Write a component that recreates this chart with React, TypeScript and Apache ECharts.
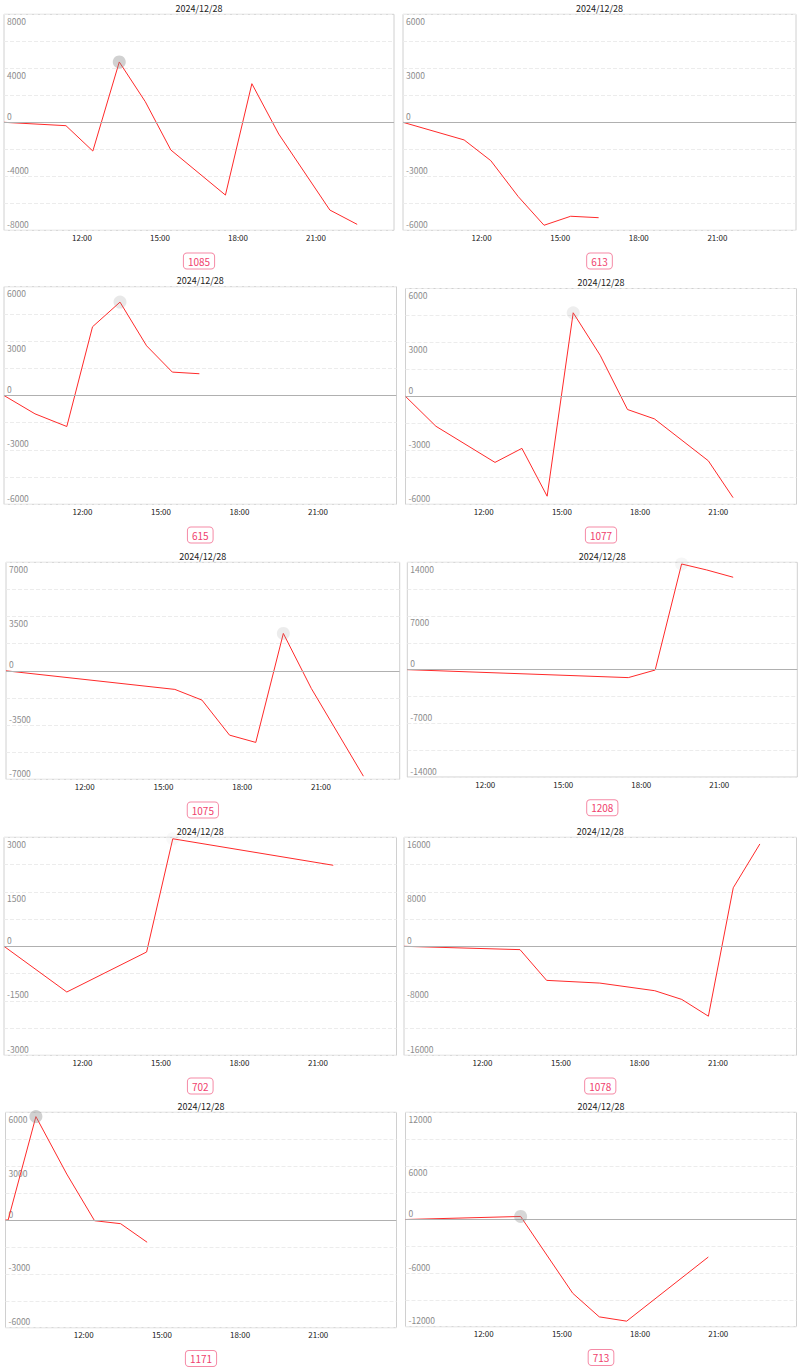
import React, { useEffect, useRef } from "react";
import * as echarts from "echarts";

// ---------- data ----------
const dateLabel = "2024/12/28";
const cellLabels = ["1085", "613", "615", "1077", "1075", "1208", "702", "1078", "1171", "713"];
const yMaxes = [8000, 6000, 6000, 6000, 7000, 14000, 3000, 16000, 6000, 12000];
const xTickHours = [9, 24]; // axis range in hours, ticks every 3h

const t1085 = ["9:00", "11:23", "12:25", "13:26", "14:26", "15:25", "17:31", "18:32", "19:34", "21:32", "22:35"];
const v1085 = [0, -250, -2130, 4470, 1530, -2050, -5390, 2860, -870, -6500, -7560];

const t613 = ["9:00", "11:20", "12:21", "13:24", "14:23", "15:24", "16:28"];
const v613 = [0, -980, -2130, -4130, -5720, -5220, -5300];

const t615 = ["9:00", "10:11", "11:24", "12:23", "13:26", "14:27", "15:26", "16:28"];
const v615 = [0, -1010, -1710, 3790, 5150, 2740, 1290, 1200];

const t1077 = ["9:00", "10:10", "12:26", "13:28", "14:26", "15:26", "16:28", "17:31", "18:33", "20:37", "21:34"];
const v1077 = [0, -1660, -3670, -2890, -5550, 4650, 2290, -730, -1250, -3580, -5630];

const t1075 = ["9:00", "15:26", "16:28", "17:31", "18:31", "19:34", "20:38", "22:37"];
const v1075 = [0, -1200, -1890, -4150, -4620, 2410, -1140, -6800];

const t1208 = ["9:00", "17:30", "18:32", "19:33", "20:31", "21:32"];
const v1208 = [0, -1040, -50, 13780, 13000, 12050];

const t702 = ["9:00", "11:24", "14:27", "15:27", "21:35"];
const v702 = [0, -1258, -157, 2960, 2230];

const t1078 = ["9:00", "13:26", "14:27", "16:29", "18:35", "19:37", "20:38", "21:35", "22:36"];
const v1078 = [0, -490, -5000, -5400, -6520, -7800, -10260, 8590, 15020];

const t1171 = ["9:00", "9:06", "10:10", "11:21", "12:25", "13:25", "14:26"];
const v1171 = [0, 0, 5760, 2560, -40, -205, -1240];

const t713 = ["9:00", "13:25", "15:25", "16:26", "17:29", "20:37"];
const v713 = [0, 340, -8260, -10900, -11380, -4200];

const seriesTimes = [t1085, t613, t615, t1077, t1075, t1208, t702, t1078, t1171, t713];
const seriesValues = [v1085, v613, v615, v1077, v1075, v1208, v702, v1078, v1171, v713];

// ---------- layout / style (not data) ----------
const cellBoxes = [
  { l: 4, r: 394, t: 14.3, b: 230.3 },
  { l: 403, r: 796, t: 14.3, b: 230.3 },
  { l: 4, r: 396.5, t: 286.7, b: 504.3 },
  { l: 405.5, r: 796.5, t: 288.5, b: 504.3 },
  { l: 6, r: 399.7, t: 562.3, b: 779.3 },
  { l: 407.3, r: 797.3, t: 562.3, b: 777 },
  { l: 4, r: 396.5, t: 837.3, b: 1055.3 },
  { l: 404, r: 796.5, t: 837.3, b: 1055.3 },
  { l: 5.5, r: 396.5, t: 1112.3, b: 1327.7 },
  { l: 405.5, r: 796.5, t: 1112.3, b: 1326.7 },
];
const markAlpha = [0.4, 0, 0.2, 0.15, 0.17, 0.08, 0.05, 0, 0.4, 0.35];

const FONT = "'Noto Sans CJK JP', 'Noto Sans', sans-serif";
const LINE_RED = "#ff2a2a";
const LABEL_PINK = "#f0426e";
const LABEL_BORDER = "#f58aa6";
const YLABEL = "#8c8c8c";

function toHours(s: string): number {
  const [h, m] = s.split(":").map(Number);
  return h + m / 60;
}

function buildOption() {
  const grid: any[] = [];
  const xAxis: any[] = [];
  const yAxis: any[] = [];
  const series: any[] = [];
  const graphic: any[] = [];

  cellBoxes.forEach((c, i) => {
    const yMax = yMaxes[i];
    const step = yMax / 4;
    const labelStep = yMax / 2;
    grid.push({
      left: c.l,
      top: c.t,
      width: c.r - c.l,
      height: c.b - c.t,
      show: true,
      borderColor: "#d0d0d0",
      borderWidth: 1,
      backgroundColor: "transparent",
      containLabel: false,
    });
    xAxis.push({
      type: "value",
      gridIndex: i,
      min: xTickHours[0],
      max: xTickHours[1],
      interval: 3,
      axisLine: { show: false, onZero: false },
      axisTick: { show: false },
      splitLine: { show: false },
      axisLabel: {
        show: true,
        showMinLabel: false,
        showMaxLabel: false,
        margin: 3,
        color: "#222",
        fontSize: 8,
        fontFamily: FONT,
        formatter: (v: number) => `${v}:00`,
      },
    });
    yAxis.push({
      type: "value",
      gridIndex: i,
      min: -yMax,
      max: yMax,
      interval: step,
      axisLine: { show: false },
      axisTick: { show: false },
      splitLine: { show: true, lineStyle: { type: "dashed", color: "#ececec", width: 1 } },
      axisLabel: {
        inside: true,
        margin: 3,
        color: YLABEL,
        fontSize: 8.5,
        fontFamily: FONT,
        formatter: (v: number) => {
          if (Math.abs(Math.round(v) % labelStep) > 0.5) return "";
          return v > 0 ? `{p|${v}}` : `{n|${v}}`;
        },
        rich: {
          p: { padding: [13, 0, 0, 0], color: YLABEL, fontSize: 8.5, fontFamily: FONT },
          n: { padding: [0, 0, 13, 0], color: YLABEL, fontSize: 8.5, fontFamily: FONT },
        },
      },
    });
    const times = seriesTimes[i];
    const vals = seriesValues[i];
    const s: any = {
      type: "line",
      xAxisIndex: i,
      yAxisIndex: i,
      data: times.map((t, k) => [toHours(t), vals[k]]),
      showSymbol: false,
      symbol: "none",
      lineStyle: { color: LINE_RED, width: 1 },
      itemStyle: { color: LINE_RED },
      silent: true,
      markLine: {
        silent: true,
        symbol: "none",
        label: { show: false },
        lineStyle: { color: "#b0b0b0", type: "solid", width: 1 },
        data: [{ yAxis: 0 }],
      },
    };
    if (markAlpha[i] > 0) {
      s.markPoint = {
        silent: true,
        symbol: "circle",
        symbolSize: 13,
        label: { show: false },
        itemStyle: { color: `rgba(140,140,140,${markAlpha[i]})` },
        data: [{ type: "max" }],
      };
    }
    series.push(s);

    const cx = (c.l + c.r) / 2;
    graphic.push({
      type: "text",
      x: cx,
      y: c.t - 6.3,
      silent: true,
      style: {
        text: dateLabel,
        fill: "#222",
        fontSize: 9,
        fontFamily: FONT,
        align: "center",
        verticalAlign: "middle",
      },
    });
    graphic.push({
      type: "text",
      x: cx,
      y: c.b + 30.7,
      silent: true,
      style: {
        text: cellLabels[i],
        fill: LABEL_PINK,
        fontSize: 10,
        fontFamily: FONT,
        align: "center",
        verticalAlign: "middle",
        padding: [2, 4, 1, 4],
        borderColor: LABEL_BORDER,
        borderWidth: 1,
        borderRadius: 3,
        backgroundColor: "#fff",
        lineHeight: 12,
      },
    });
  });

  return {
    animation: false,
    backgroundColor: "#fff",
    grid,
    xAxis,
    yAxis,
    series,
    graphic,
  };
}

export default function App() {
  const ref = useRef<HTMLDivElement>(null);
  useEffect(() => {
    if (!ref.current) return;
    const chart = echarts.init(ref.current, undefined, { renderer: "svg" });
    chart.setOption(buildOption() as any);
    return () => chart.dispose();
  }, []);
  return (
    <div
      ref={ref}
      style={{ position: "absolute", left: 0, top: 0, width: 800, height: 1370, background: "#fff" }}
    />
  );
}
